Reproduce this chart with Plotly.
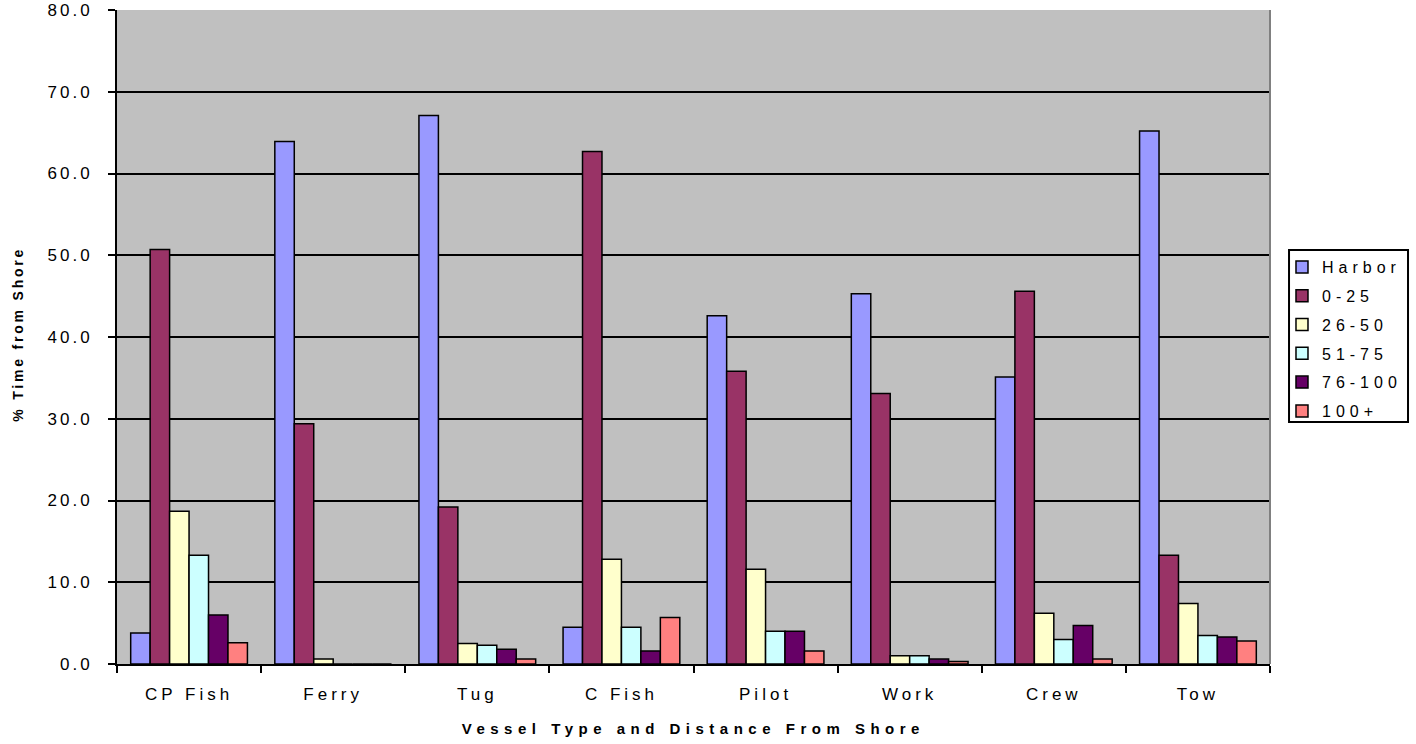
import plotly.graph_objects as go

# Vessel types on the category axis
vessels = ["CP Fish", "Ferry", "Tug", "C Fish", "Pilot", "Work", "Crew", "Tow"]

# % time spent at each distance band, per vessel type
harbor = [3.8, 63.9, 67.1, 4.5, 42.6, 45.3, 35.1, 65.2]
d0_25 = [50.7, 29.4, 19.2, 62.7, 35.8, 33.1, 45.6, 13.3]
d26_50 = [18.7, 0.6, 2.5, 12.8, 11.6, 1.0, 6.2, 7.4]
d51_75 = [13.3, 0.0, 2.3, 4.5, 4.0, 1.0, 3.0, 3.5]
d76_100 = [6.0, 0.0, 1.8, 1.6, 4.0, 0.6, 4.7, 3.3]
d100p = [2.6, 0.0, 0.6, 5.7, 1.6, 0.3, 0.6, 2.8]

series_names = ["Harbor", "0-25", "26-50", "51-75", "76-100", "100+"]
series_values = [harbor, d0_25, d26_50, d51_75, d76_100, d100p]
series_colors = ["#9999FF", "#993366", "#FFFFCC", "#CCFFFF", "#660066", "#FF8080"]

y_ticks = [0, 10, 20, 30, 40, 50, 60, 70, 80]
y_tick_labels = [f"{v:.1f}" for v in y_ticks]

FONT = "Liberation Sans, Arial, sans-serif"

fig = go.Figure()
for name, vals, col in zip(series_names, series_values, series_colors):
    fig.add_trace(go.Bar(
        x=vessels, y=vals, name=name, legendgroup=name,
        marker=dict(color=col, line=dict(color="black", width=1.5)),
    ))

fig.update_layout(
    width=1416, height=744,
    margin=dict(l=117, r=146, t=10, b=80),
    paper_bgcolor="white",
    plot_bgcolor="#C0C0C0",
    barmode="group",
    bargap=0.19,
    bargroupgap=0.0,
    font=dict(family=FONT, color="black", size=15),
    showlegend=True,
    legend=dict(
        x=1.0104, y=0.633, xanchor="left", yanchor="top",
        bgcolor="rgba(0,0,0,0)", borderwidth=0,
        font=dict(size=16, family=FONT),
        tracegroupgap=5, itemwidth=30,
    ),
    xaxis=dict(
        automargin=False,
        showgrid=False,
        showline=True, linecolor="black", linewidth=2,
        ticks="outside", tickson="boundaries", ticklen=7, tickwidth=2, tickcolor="black",
        tickfont=dict(size=17, family=FONT),
        ticklabelstandoff=14,
    ),
    yaxis=dict(
        automargin=False,
        range=[0, 80],
        tickvals=y_ticks, ticktext=y_tick_labels,
        showgrid=True, gridcolor="black", gridwidth=1.5,
        showline=True, linecolor="black", linewidth=2,
        ticks="outside", ticklen=7, tickwidth=2, tickcolor="black",
        tickfont=dict(size=17, family=FONT),
        ticklabelstandoff=12,
        zeroline=False,
    ),
    annotations=[
        dict(text="Vessel Type and Distance From Shore",
             xref="paper", yref="paper", x=0.5, y=-0.0979,
             xanchor="center", yanchor="middle", showarrow=False,
             font=dict(size=15, family=FONT, weight=700)),
        dict(text="% Time from Shore",
             xref="paper", yref="paper", x=-0.0859, y=0.5046,
             xanchor="center", yanchor="middle", showarrow=False, textangle=-90,
             font=dict(size=14, family=FONT, weight=700)),
    ],
    shapes=[
        # right edge of the plotting area
        dict(type="line", xref="paper", yref="paper", x0=1, x1=1, y0=0, y1=1,
             line=dict(color="#808080", width=2)),
        # legend frame
        dict(type="rect", xref="paper", yref="paper",
             x0=1.0165, x1=1.1197, y0=0.370, y1=0.633,
             fillcolor="white", line=dict(color="black", width=2), layer="above"),
    ],
)

# widen character spacing of the text labels
spacing_js = """
var gd = document.getElementById('{plot_id}');
function sp(sel, v) {
  gd.querySelectorAll(sel).forEach(function (el) { el.style.letterSpacing = v; });
}
sp('.xtick text', '4px');
sp('.ytick text', '3px');
sp('.legendtext', '5px');
gd.querySelectorAll('.legend, .legend .scrollbox').forEach(function (el) {
  el.removeAttribute('clip-path');
});
var ann = gd.querySelectorAll('.annotation-text');
if (ann.length > 0) ann[0].style.letterSpacing = '5.5px';
if (ann.length > 1) ann[1].style.letterSpacing = '2.8px';
"""

fig.write_html("out.html", post_script=spacing_js)
